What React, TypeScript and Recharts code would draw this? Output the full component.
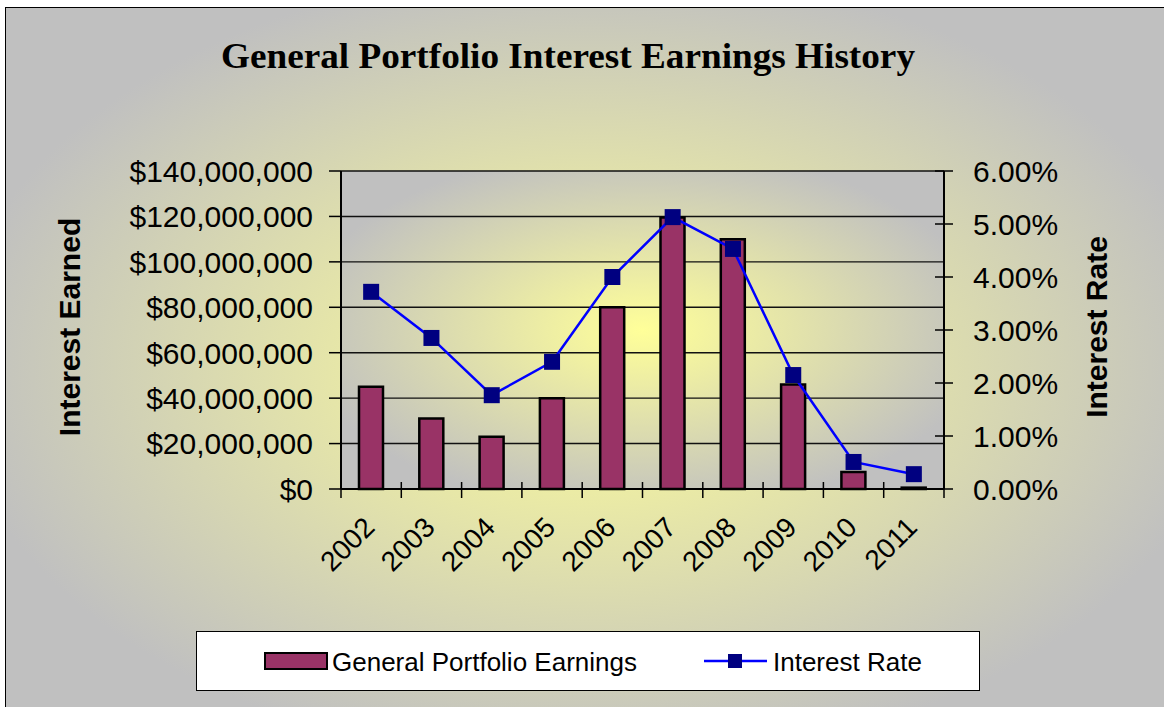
import React from "react";
import { ComposedChart, Bar, Line, XAxis, YAxis, CartesianGrid } from "recharts";

// ── Data ───────────────────────────────────────────────────────────────────────

const years = ["2002", "2003", "2004", "2005", "2006", "2007", "2008", "2009", "2010", "2011"];
const earnings = [45000000, 31000000, 23000000, 40000000, 80000000, 119500000, 110000000, 46000000, 7500000, 600000];
const rates = [3.72, 2.85, 1.77, 2.4, 4.0, 5.13, 4.53, 2.15, 0.51, 0.28];
const earningTicks = [0, 20000000, 40000000, 60000000, 80000000, 100000000, 120000000, 140000000];
const rateTicks = [0, 1, 2, 3, 4, 5, 6];

const rows = years.map((year, i) => ({ year, earnings: earnings[i], rate: rates[i] }));

// ── Theme ──────────────────────────────────────────────────────────────────────

const C = {
  page: "#FFFFFF",
  ink: "#000000",
  grid: "#111111",
  grey: "#C0C0C0",
  glow: "#FFFF99",
  bar: "#993366",
  line: "#0000FF",
  marker: "#000080",
} as const;

const SANS = '"Liberation Sans", Arial, sans-serif';
const SERIF = '"Liberation Serif", "Times New Roman", serif';

const W = 1164;
const H = 707;
const PLOT = { left: 341, top: 171, right: 944, bottom: 489 };
const BAND = (PLOT.right - PLOT.left) / years.length;

const fmtMoney = (v: number) => "$" + v.toLocaleString("en-US");
const fmtRate = (v: number) => v.toFixed(2) + "%";

// ── Ticks ──────────────────────────────────────────────────────────────────────

function MoneyTick({ x, y, payload }: any) {
  return (
    <g>
      <line x1={x - 12} y1={y} x2={x} y2={y} stroke={C.ink} strokeWidth={1.5} />
      <text x={x - 28} y={y} dy="0.36em" textAnchor="end" fontSize={30} fontFamily={SANS} fill={C.ink}>
        {fmtMoney(payload.value)}
      </text>
    </g>
  );
}

function RateTick({ x, y, payload }: any) {
  return (
    <g>
      <line x1={x - 9} y1={y} x2={x + 9} y2={y} stroke={C.ink} strokeWidth={1.5} />
      <text x={x + 29} y={y} dy="0.36em" textAnchor="start" fontSize={30} fontFamily={SANS} fill={C.ink}>
        {fmtRate(payload.value)}
      </text>
    </g>
  );
}

function YearTick({ x, y, payload, index }: any) {
  const half = BAND / 2;
  const tx = x + 5;
  const ty = y + 40;
  return (
    <g>
      <line x1={x - half} y1={y - 7} x2={x - half} y2={y + 9} stroke={C.ink} strokeWidth={1.5} />
      {index === years.length - 1 && (
        <line x1={x + half} y1={y - 7} x2={x + half} y2={y + 9} stroke={C.ink} strokeWidth={1.5} />
      )}
      <text
        x={tx}
        y={ty}
        transform={`rotate(-45 ${tx} ${ty})`}
        textAnchor="end"
        fontSize={28}
        fontFamily={SANS}
        fill={C.ink}
      >
        {payload.value}
      </text>
    </g>
  );
}

// ── Component ──────────────────────────────────────────────────────────────────

export default function App() {
  return (
    <div style={{ position: "fixed", left: 0, top: 0, width: W, height: H, overflow: "hidden", background: C.page }}>
      {/* chart area frame with centre glow */}
      <div
        style={{
          position: "absolute",
          left: 5,
          top: 7,
          width: 1200,
          height: 740,
          border: `1px solid ${C.ink}`,
          background: `radial-gradient(ellipse 640px 400px at 585px 358px, ${C.glow} 0%, ${C.grey} 100%)`,
        }}
      />
      {/* plot area glow */}
      <div
        style={{
          position: "absolute",
          left: PLOT.left,
          top: PLOT.top,
          width: PLOT.right - PLOT.left,
          height: PLOT.bottom - PLOT.top,
          background: `radial-gradient(ellipse 346px 183px at 50% 50%, ${C.glow} 0%, ${C.grey} 100%)`,
        }}
      />

      <div style={{ position: "absolute", left: 0, top: 0 }}>
        <ComposedChart
          width={W}
          height={H}
          data={rows}
          margin={{ top: PLOT.top, right: 20, bottom: 158, left: 121 }}
        >
          <CartesianGrid yAxisId="left" vertical={false} stroke={C.grid} strokeWidth={1.4} />
          <XAxis
            dataKey="year"
            height={60}
            interval={0}
            tick={(p: any) => <YearTick {...p} />}
            tickLine={false}
            tickSize={0}
            tickMargin={0}
            axisLine={{ stroke: C.ink, strokeWidth: 2 }}
          />
          <YAxis
            yAxisId="left"
            orientation="left"
            width={220}
            domain={[0, 140000000]}
            ticks={earningTicks}
            interval={0}
            tick={(p: any) => <MoneyTick {...p} />}
            tickLine={false}
            tickSize={0}
            tickMargin={0}
            axisLine={{ stroke: C.ink, strokeWidth: 2 }}
          />
          <YAxis
            yAxisId="right"
            orientation="right"
            width={200}
            domain={[0, 6]}
            ticks={rateTicks}
            interval={0}
            tick={(p: any) => <RateTick {...p} />}
            tickLine={false}
            tickSize={0}
            tickMargin={0}
            axisLine={{ stroke: C.ink, strokeWidth: 2 }}
          />
          <Bar
            yAxisId="left"
            dataKey="earnings"
            barSize={24}
            fill={C.bar}
            stroke={C.ink}
            strokeWidth={2.5}
            isAnimationActive={false}
          />
          <Line
            yAxisId="right"
            dataKey="rate"
            type="linear"
            stroke={C.line}
            strokeWidth={2.5}
            dot={(p: any) => (
              <rect key={`m${p.index}`} x={p.cx - 8} y={p.cy - 8} width={16} height={16} fill={C.marker} />
            )}
            activeDot={false}
            isAnimationActive={false}
          />
        </ComposedChart>
      </div>

      {/* titles */}
      <svg width={W} height={H} style={{ position: "absolute", left: 0, top: 0, pointerEvents: "none" }}>
        <text
          x={568}
          y={68}
          textAnchor="middle"
          fontSize={35}
          fontWeight="bold"
          fontFamily={SERIF}
          textLength={694}
          lengthAdjust="spacingAndGlyphs"
          fill={C.ink}
        >
          General Portfolio Interest Earnings History
        </text>
        <text
          transform="translate(80 327) rotate(-90)"
          textAnchor="middle"
          fontSize={30}
          fontWeight="bold"
          fontFamily={SANS}
          fill={C.ink}
        >
          Interest Earned
        </text>
        <text
          transform="translate(1107 327) rotate(-90)"
          textAnchor="middle"
          fontSize={30}
          fontWeight="bold"
          fontFamily={SANS}
          fill={C.ink}
        >
          Interest Rate
        </text>
      </svg>

      {/* legend */}
      <div
        style={{
          position: "absolute",
          left: 196,
          top: 631,
          width: 784,
          height: 60,
          boxSizing: "border-box",
          border: `1px solid ${C.ink}`,
          background: C.page,
        }}
      >
        <svg width={782} height={58} style={{ display: "block" }}>
          <rect x={68} y={21} width={62} height={16} fill={C.bar} stroke={C.ink} strokeWidth={2} />
          <text x={135} y={39} fontSize={26} fontFamily={SANS} fill={C.ink}>
            General Portfolio Earnings
          </text>
          <line x1={507} y1={29} x2={570} y2={29} stroke={C.line} strokeWidth={2.5} />
          <rect x={531} y={22} width={14} height={14} fill={C.marker} />
          <text x={576} y={39} fontSize={26} fontFamily={SANS} fill={C.ink}>
            Interest Rate
          </text>
        </svg>
      </div>
    </div>
  );
}
